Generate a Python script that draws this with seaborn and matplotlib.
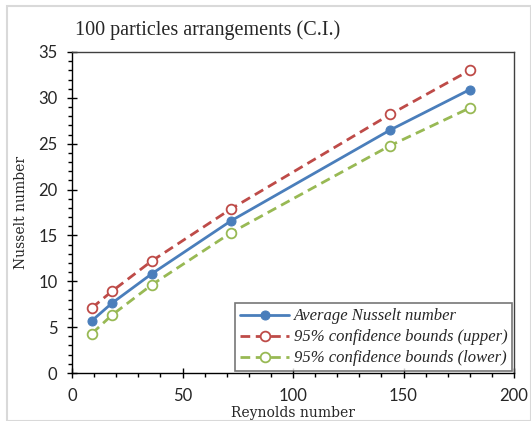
import matplotlib
matplotlib.use("Agg")
import matplotlib.pyplot as plt
import seaborn as sns
import pandas as pd
from matplotlib.ticker import MultipleLocator
from matplotlib.patches import Rectangle

reynolds = [9, 18, 36, 72, 144, 180]
nu_avg = [5.7, 7.6, 10.8, 16.6, 26.5, 30.9]
nu_upper = [7.1, 8.9, 12.2, 17.9, 28.2, 33.0]
nu_lower = [4.3, 6.3, 9.6, 15.3, 24.8, 28.9]
labels = ["Average Nusselt number",
          "95% confidence bounds (upper)",
          "95% confidence bounds (lower)"]

sns.set_style("white")
plt.rcParams['font.family'] = ['Liberation Serif', 'DejaVu Serif']

fig = plt.figure(figsize=(5.31, 4.21), dpi=100)
ax = fig.add_axes([72/531, 1-373/421, (514-72)/531, (373-52)/421])

blue = "#4A7EBB"
red = "#BE4B48"
green = "#98B954"

sns.lineplot(x=reynolds, y=nu_avg, ax=ax, color=blue, lw=2, marker="o",
             markersize=6.5, markeredgecolor=blue, markerfacecolor=blue, label=labels[0])
sns.lineplot(x=reynolds, y=nu_upper, ax=ax, color=red, lw=2, linestyle=(0, (3.5, 2)),
             marker="o", markersize=7, markeredgecolor=red, markerfacecolor="white",
             markeredgewidth=1.3, label=labels[1])
sns.lineplot(x=reynolds, y=nu_lower, ax=ax, color=green, lw=2, linestyle=(0, (3.5, 2)),
             marker="o", markersize=7, markeredgecolor=green, markerfacecolor="white",
             markeredgewidth=1.3, label=labels[2])

ax.set_xlim(0, 200)
ax.set_ylim(0, 35)
ax.xaxis.set_major_locator(MultipleLocator(50))
ax.xaxis.set_minor_locator(MultipleLocator(10))
ax.yaxis.set_major_locator(MultipleLocator(5))
ax.yaxis.set_minor_locator(MultipleLocator(1))
ax.tick_params(axis="both", which="major", direction="inout", length=7, width=1,
               color="black", labelsize=12)
ax.tick_params(axis="x", which="major", pad=7)
ax.tick_params(axis="y", which="major", pad=7)
ax.tick_params(axis="both", which="minor", direction="out", length=3, width=1, color="black")
ax.tick_params(axis="x", which="both", top=False, bottom=True)
ax.tick_params(axis="y", which="both", right=False, left=True)
for lab in ax.get_xticklabels() + ax.get_yticklabels():
    lab.set_fontfamily(["Lato", "DejaVu Sans"])
    lab.set_color("#262626")

for s in ["left", "bottom"]:
    ax.spines[s].set_color("black")
    ax.spines[s].set_linewidth(1)
for s in ["top", "right"]:
    ax.spines[s].set_color("#404040")
    ax.spines[s].set_linewidth(1)
    ax.spines[s].set_visible(True)

ax.set_xlabel("Reynolds number", fontsize=10, labelpad=1.5, family=["DejaVu Serif"])
ax.set_ylabel("Nusselt number", fontsize=10, labelpad=7, family=["DejaVu Serif"])
fig.text(75/531, 1-30/421, "100 particles arrangements (C.I.)", fontsize=14.5,
         va="center", ha="left")

leg = ax.legend(loc="lower right", bbox_to_anchor=(1.0, 0.0), frameon=True,
                fancybox=False, prop={"style": "italic", "size": 12},
                handlelength=2.9, borderpad=0.3, labelspacing=0.3, handletextpad=0.3,
                borderaxespad=0.1)
leg.get_frame().set_edgecolor("#555555")
leg.get_frame().set_linewidth(1.2)

fig.patches.append(Rectangle((7/531, 0), 1-7/531, 1-6/421, transform=fig.transFigure,
                             fill=False, edgecolor="#d9d9d9", linewidth=1.5))

fig.savefig("out.png", dpi=100)
